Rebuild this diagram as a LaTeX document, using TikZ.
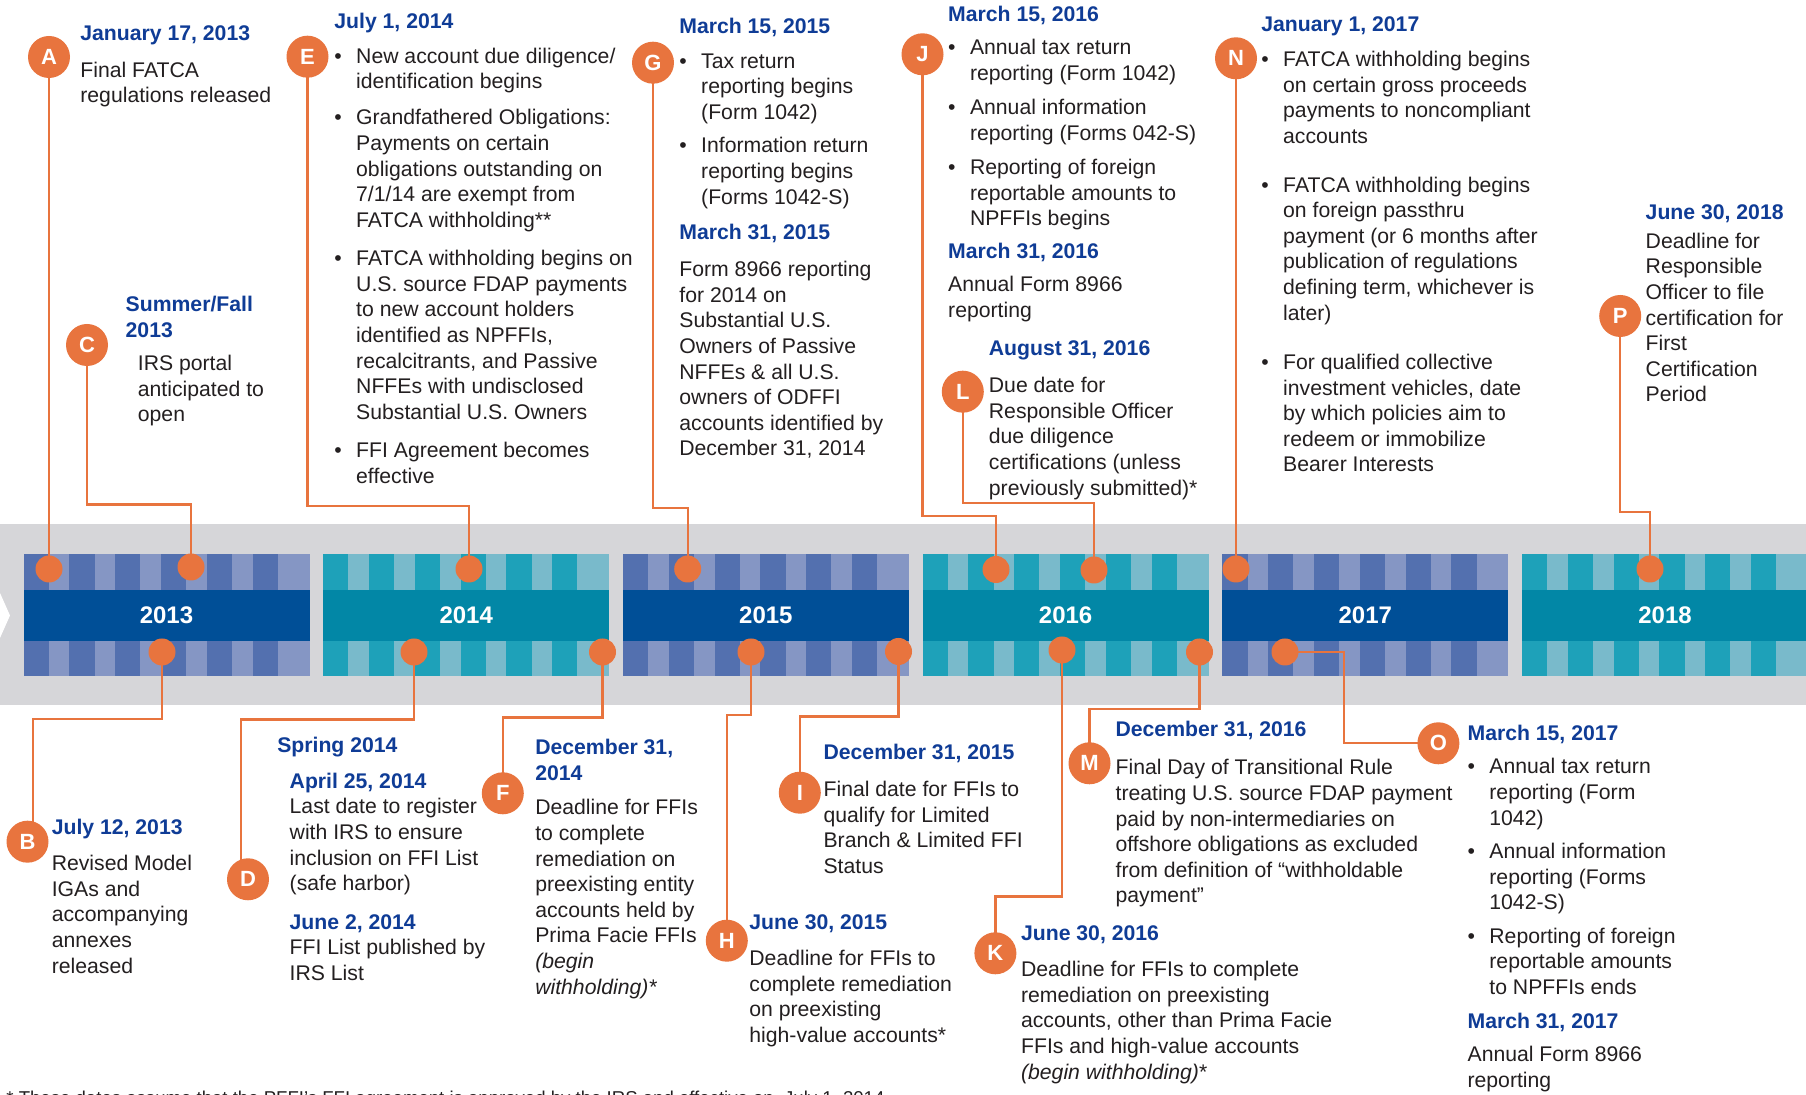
\documentclass[tikz,border=0pt]{standalone}
\usepackage{fontspec}
\setmainfont{Liberation Sans}
\usetikzlibrary{calc}
\definecolor{orng}{RGB}{232,116,62}
\definecolor{bandgray}{RGB}{214,214,217}
\definecolor{bluemain}{RGB}{0,79,151}
\definecolor{bluedark}{RGB}{83,112,175}
\definecolor{bluelight}{RGB}{133,150,196}
\definecolor{tealmain}{RGB}{2,135,166}
\definecolor{tealdark}{RGB}{30,161,185}
\definecolor{teallight}{RGB}{121,186,203}
\definecolor{datecol}{RGB}{15,60,150}
\definecolor{txtcol}{RGB}{35,31,32}
\pgfdeclarelayer{bg}
\pgfdeclarelayer{lines}
\pgfsetlayers{bg,lines,main}
\newlength\bw
\setlength\bw{10.9pt}
\newcommand\bl{\makebox[\bw][l]{•}}
\newcommand\il{\hspace*{\bw}}
\newcommand\tb[1]{\parbox[t]{300pt}{\raggedright #1}}
\tikzset{
  datetxt/.style={anchor=base west, inner sep=0, font=\fontsize{10.6pt}{12.8pt}\selectfont\bfseries, text=datecol},
  bodytxt/.style={anchor=base west, inner sep=0, font=\fontsize{10.6pt}{12.8pt}\selectfont, text=txtcol},
  letter/.style={circle, fill=orng, minimum size=21pt, inner sep=0, text=white, font=\fontsize{11pt}{13pt}\selectfont\bfseries},
  dotnode/.style={circle, fill=orng, minimum size=13.5pt, inner sep=0},
  conn/.style={draw=orng, line width=1.2pt},
  yearlbl/.style={inner sep=0, text=white, font=\fontsize{12pt}{14pt}\selectfont\bfseries},
  footnt/.style={anchor=base west, inner sep=0, font=\fontsize{9.3pt}{11pt}\selectfont, text=txtcol}
}
\begin{document}
\begin{tikzpicture}[x=0.5pt,y=-0.5pt]
\useasboundingbox (0,0) rectangle (1806,1095);
\clip (0,0) rectangle (1806,1095);
% ---------- band ----------
\begin{pgfonlayer}{bg}
\fill[white] (0,0) rectangle (1806,1095);
\fill[bandgray] (0,524.3) rectangle (1806,705);
\fill[white] (0,593) -- (10,615.5) -- (0,638) -- cycle;
\foreach \i/\cm/\cd/\cl in {0/bluemain/bluedark/bluelight,1/tealmain/tealdark/teallight,2/bluemain/bluedark/bluelight,3/tealmain/tealdark/teallight,4/bluemain/bluedark/bluelight,5/tealmain/tealdark/teallight}{
  \pgfmathsetmacro\xl{23.5+299.7*\i}
  \fill[\cl] (\xl,554) rectangle ++(286,36);
  \fill[\cl] (\xl,641) rectangle ++(286,34.7);
  \foreach \k in {0,...,5}{
    \fill[\cd] (\xl+45.8*\k,554) rectangle ++(25.2,36);
    \fill[\cd] (\xl+45.8*\k,641) rectangle ++(25.2,34.7);
  }
  \fill[\cm] (\xl,590) rectangle ++(286,51);
}
\end{pgfonlayer}
\node[yearlbl] (y2013) at (166.5,615.5) {2013};
\node[yearlbl] (y2014) at (466.2,615.5) {2014};
\node[yearlbl] (y2015) at (765.9,615.5) {2015};
\node[yearlbl] (y2016) at (1065.6,615.5) {2016};
\node[yearlbl] (y2017) at (1365.3,615.5) {2017};
\node[yearlbl] (y2018) at (1665,615.5) {2018};
% ---------- dots ----------
\node[dotnode] (dA) at (49,569) {};
\node[dotnode] (dC) at (191,567) {};
\node[dotnode] (dE) at (469,569) {};
\node[dotnode] (dG) at (687.7,569) {};
\node[dotnode] (dJ) at (996,569.5) {};
\node[dotnode] (dL) at (1094,570) {};
\node[dotnode] (dN) at (1236,569) {};
\node[dotnode] (dP) at (1650,569) {};
\node[dotnode] (dB) at (162,652) {};
\node[dotnode] (dD) at (414,652) {};
\node[dotnode] (dF) at (602.5,652) {};
\node[dotnode] (dH) at (751,652) {};
\node[dotnode] (dI) at (898.5,651.5) {};
\node[dotnode] (dK) at (1062,650) {};
\node[dotnode] (dM) at (1199.5,652) {};
\node[dotnode] (dO) at (1285,652) {};
% ---------- letter circles ----------
\node[letter] (A) at (49,57) {A};
\node[letter] (B) at (27.5,841.7) {B};
\node[letter] (C) at (87,345) {C};
\node[letter] (D) at (248,879.3) {D};
\node[letter] (E) at (307.5,56.7) {E};
\node[letter] (F) at (502.8,793.3) {F};
\node[letter] (G) at (653,62.7) {G};
\node[letter] (H) at (726.8,940.7) {H};
\node[letter] (I) at (799.8,792.7) {I};
\node[letter] (J) at (922.5,54.3) {J};
\node[letter] (K) at (995.4,953.3) {K};
\node[letter] (L) at (962.8,391.7) {L};
\node[letter] (M) at (1089.5,763.3) {M};
\node[letter] (N) at (1236,58.3) {N};
\node[letter] (O) at (1438.4,743.3) {O};
\node[letter] (P) at (1620.2,316) {P};
% ---------- elbows ----------
\coordinate (cC) at (191,504.7);
\coordinate (cE) at (469,506);
\coordinate (cG) at (687.7,508.3);
\coordinate (cJ) at (996,516);
\coordinate (cL) at (1094,503.3);
\coordinate (cP) at (1650,512.3);
\coordinate (cB) at (33,719);
\coordinate (cD) at (241,719.7);
\coordinate (cF) at (502.8,717.7);
\coordinate (cH) at (726.8,715);
\coordinate (cI) at (799.8,716.5);
\coordinate (cK) at (995.4,896.7);
\coordinate (cM) at (1089.5,709);
\coordinate (cO) at (1343.8,743.3);
\begin{pgfonlayer}{lines}
\draw[conn] (A.center) -- (dA.center);
\draw[conn] (C.center) |- (cC) -- (dC.center);
\draw[conn] (E.center) |- (cE) -- (dE.center);
\draw[conn] (G.center) |- (cG) -- (dG.center);
\draw[conn] (J.center) |- (cJ) -- (dJ.center);
\draw[conn] (L.center) |- (cL) -- (dL.center);
\draw[conn] (N.center) -- (dN.center);
\draw[conn] (P.center) |- (cP) -- (dP.center);
\draw[conn] (dB.center) |- (cB) -- (cB |- B.center);
\draw[conn] (dD.center) |- (cD) -- (cD |- D.center);
\draw[conn] (dF.center) |- (cF) -- (F.center);
\draw[conn] (dH.center) |- (cH) -- (H.center);
\draw[conn] (dI.center) |- (cI) -- (I.center);
\draw[conn] (dK.center) |- (cK) -- (K.center);
\draw[conn] (dM.center) |- (cM) -- (M.center);
\draw[conn] (dO.center) -| (cO) -- (O.center);
\end{pgfonlayer}
% ---------- top texts ----------
\node[datetxt] (tA) at (80,40.7) {January 17, 2013};
\node[bodytxt] (bA) at (80,77.3) {\tb{Final FATCA\\regulations released}};
\node[datetxt] (tC) at (125.3,311.7) {\tb{Summer/Fall\\2013}};
\node[bodytxt] (bC) at (137.5,370.7) {\tb{IRS portal\\anticipated to\\open}};
\node[datetxt] (tE) at (334,28.3) {July 1, 2014};
\node[bodytxt] (bE) at (334,63.3) {\tb{\bl New account due diligence/\\\il identification begins\\[5.2pt]
\bl Grandfathered Obligations:\\\il Payments on certain\\\il obligations  outstanding on\\\il 7/1/14 are exempt from\\\il FATCA withholding**\\[6.4pt]
\bl FATCA withholding begins on\\\il U.S. source FDAP payments\\\il to new account holders\\\il identified as NPFFIs,\\\il recalcitrants, and Passive\\\il NFFEs with undisclosed\\\il Substantial U.S. Owners\\[6.5pt]
\bl FFI Agreement becomes\\\il effective}};
\node[datetxt] (tG) at (679,34) {March 15, 2015};
\node[bodytxt] (bG) at (679,68.3) {\tb{\bl Tax return\\\il reporting begins\\\il (Form 1042)\\[3.9pt]
\bl Information return\\\il reporting begins\\\il (Forms 1042-S)}};
\node[datetxt] (tG2) at (679,240) {March 31, 2015};
\node[bodytxt] (bG2) at (679,276.7) {\tb{Form 8966 reporting\\for 2014 on\\Substantial U.S.\\Owners of Passive\\NFFEs \& all U.S.\\owners of ODFFI\\accounts identified by\\December 31, 2014}};
\node[datetxt] (tJ) at (947.8,22) {March 15, 2016};
\node[bodytxt] (bJ) at (947.8,55) {\tb{\bl Annual tax return\\\il reporting (Form 1042)\\[4.2pt]
\bl Annual information\\\il reporting (Forms 042-S)\\[4.35pt]
\bl Reporting of foreign\\\il reportable amounts to\\\il NPFFIs begins}};
\node[datetxt] (tJ2) at (947.8,258.3) {March 31, 2016};
\node[bodytxt] (bJ2) at (947.8,291.7) {\tb{Annual Form 8966\\reporting}};
\node[datetxt] (tL) at (988.5,356) {August 31, 2016};
\node[bodytxt] (bL) at (988.5,392.7) {\tb{Due date for\\Responsible Officer\\due diligence\\certifications (unless\\previously submitted)*}};
\node[datetxt] (tN) at (1261,31.7) {January 1, 2017};
\node[bodytxt] (bN) at (1261,66.7) {\tb{\bl FATCA withholding begins\\\il on certain gross proceeds\\\il payments to noncompliant\\\il accounts\\[11.55pt]
\bl FATCA withholding begins\\\il on foreign passthru\\\il payment (or 6 months after\\\il publication of regulations\\\il defining term, whichever is\\\il later)\\[11.85pt]
\bl For qualified collective\\\il investment vehicles, date\\\il by which policies aim to\\\il redeem or immobilize\\\il Bearer Interests}};
\node[datetxt] (tP) at (1645.3,220) {June 30, 2018};
\node[bodytxt] (bP) at (1645.3,248.3) {\tb{Deadline for\\Responsible\\Officer to file\\certification for\\First\\Certification\\Period}};
% ---------- bottom texts ----------
\node[datetxt] (tB) at (51.4,835) {July 12, 2013};
\node[bodytxt] (bB) at (51.4,870.7) {\tb{Revised Model\\IGAs and\\accompanying\\annexes\\released}};
\node[datetxt] (tD0) at (276.9,752.7) {Spring 2014};
\node[datetxt] (tD) at (289.3,788.3) {April 25, 2014};
\node[bodytxt] (bD) at (289.3,814) {\tb{Last date to register\\with IRS to ensure\\inclusion on FFI List\\(safe harbor)}};
\node[datetxt] (tD2) at (289.3,929.3) {June 2, 2014};
\node[bodytxt] (bD2) at (289.3,955) {\tb{FFI List published by\\IRS List}};
\node[datetxt] (tF) at (534.9,755) {\tb{December 31,\\2014}};
\node[bodytxt] (bF) at (534.9,815) {\tb{Deadline for FFIs\\to complete\\remediation on\\preexisting entity\\accounts held by\\Prima Facie FFIs\\\textit{(begin}\\\textit{withholding)*}}};
\node[datetxt] (tH) at (749,930) {June 30, 2015};
\node[bodytxt] (bH) at (749,965.7) {\tb{Deadline for FFIs to\\complete remediation\\on preexisting\\high-value accounts*}};
\node[datetxt] (tI) at (823.2,760) {December 31, 2015};
\node[bodytxt] (bI) at (823.2,796.7) {\tb{Final date for FFIs to\\qualify for Limited\\Branch \& Limited FFI\\Status}};
\node[datetxt] (tK) at (1020.7,940.7) {June 30, 2016};
\node[bodytxt] (bK) at (1020.7,976.7) {\tb{Deadline for FFIs to complete\\remediation on preexisting\\accounts, other than Prima Facie\\FFIs and high-value accounts\\\textit{(begin withholding)}*}};
\node[datetxt] (tM) at (1115.2,736.7) {December 31, 2016};
\node[bodytxt] (bM) at (1115.2,775) {\tb{Final Day of Transitional Rule\\treating U.S. source FDAP payment\\paid by non-intermediaries on\\offshore obligations as excluded\\from definition of “withholdable\\payment”}};
\node[datetxt] (tO) at (1467.2,740.7) {March 15, 2017};
\node[bodytxt] (bO) at (1467.2,774) {\tb{\bl Annual tax return\\\il reporting (Form\\\il 1042)\\[3.85pt]
\bl Annual information\\\il reporting (Forms\\\il 1042-S)\\[4pt]
\bl Reporting of foreign\\\il reportable amounts\\\il to NPFFIs ends}};
\node[datetxt] (tO2) at (1467.2,1028.3) {March 31, 2017};
\node[bodytxt] (bO2) at (1467.2,1061.7) {\tb{Annual Form 8966\\reporting}};
\node[footnt] (fn) at (6,1104) {* These dates assume that the PFFI’s FFI agreement is approved by the IRS and effective on\ \ July 1, 2014};
\end{tikzpicture}
\end{document}
